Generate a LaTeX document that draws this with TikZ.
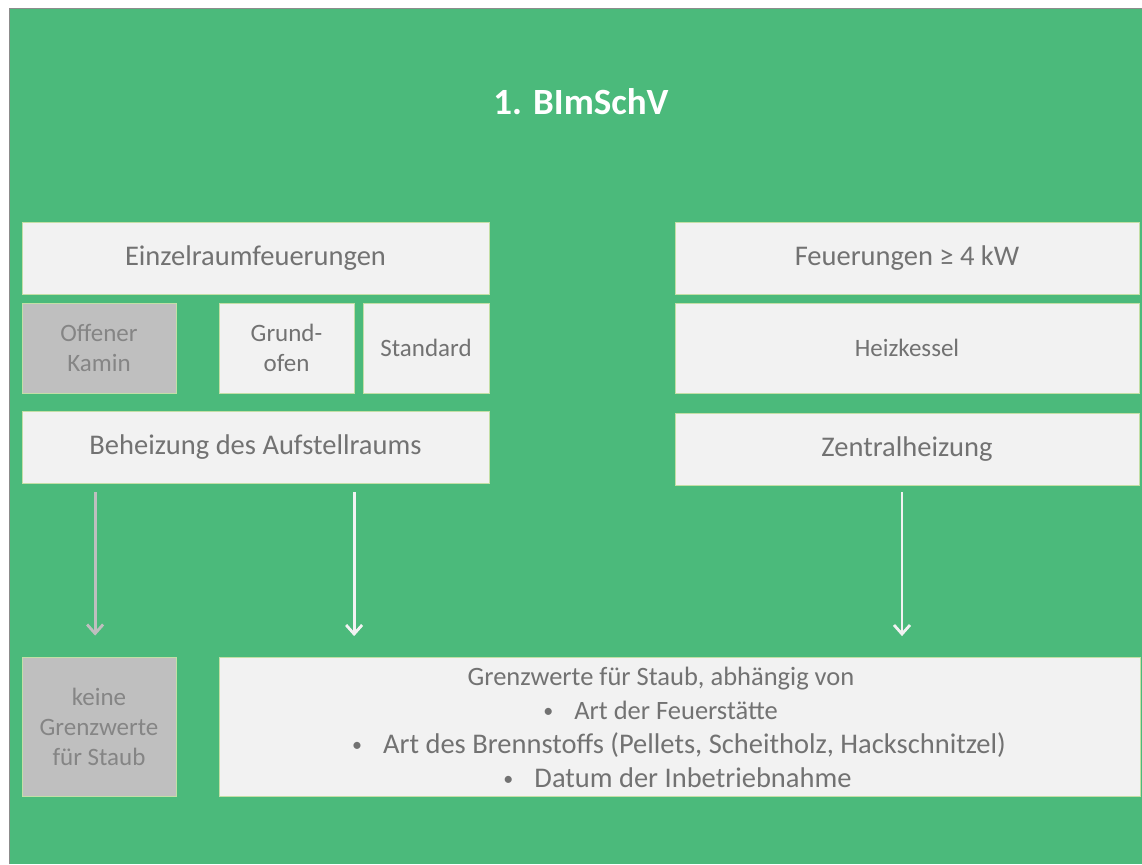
\documentclass[tikz,border=0pt]{standalone}
\usepackage{fontspec}
\setmainfont{Carlito}
\usetikzlibrary{arrows.meta}
\definecolor{bggreen}{HTML}{4BBA7B}
\definecolor{boxfill}{HTML}{F2F2F2}
\definecolor{boxedge}{HTML}{C3DFA6}
\definecolor{greyfill}{HTML}{BFBFBF}
\definecolor{txt}{HTML}{727272}
\definecolor{greytxt}{HTML}{858585}
\definecolor{frame}{HTML}{8C8C8C}
\newcommand\mybul{\makebox[8pt]{\raisebox{1.5pt}{\fontsize{20}{20}\selectfont •}}\hspace{22pt}}
\tikzset{
  box/.style={rectangle, fill=boxfill, draw=boxedge, line width=0.8pt, inner sep=0pt,
    text=txt, align=center},
  greybox/.style={box, fill=greyfill, text=greytxt},
  big/.style={font=\fontsize{28.5}{34}\selectfont},
  small/.style={font=\fontsize{25}{30}\selectfont},
  mid/.style={font=\fontsize{26.5}{34}\selectfont},
  arrowW/.style={draw=boxfill, line width=2.8pt, -{Straight Barb[length=9pt,width=16pt]}},
  arrowG/.style={draw=greyfill, line width=2.8pt, -{Straight Barb[length=9pt,width=16pt]}}
}
\begin{document}
\begin{tikzpicture}[x=1pt,y=-1pt]
\useasboundingbox (0,0) rectangle (1142,864);
\fill[white] (0,0) rectangle (1142,864);
\fill[bggreen] (9.5,8.5) rectangle (1142,864);
\draw[frame, line width=1pt] (9.5,864) -- (9.5,8.5) -- (1142,8.5);

\node[text=white, font=\fontsize{37}{44}\selectfont\bfseries] (title) at (581,102) {1. BImSchV};

\node[box, big, minimum width=467pt, minimum height=72pt] (einz) at (255.5,258) {Einzelraumfeuerungen};
\node[greybox, small, minimum width=154pt, minimum height=90pt] (kamin) at (99,348) {Offener\\Kamin};
\node[box, small, minimum width=135pt, minimum height=90pt] (grund) at (286.5,348) {Grund-\\ofen};
\node[box, small, minimum width=126pt, minimum height=90pt] (std) at (426,348) {Standard};
\node[box, big, minimum width=467pt, minimum height=72pt] (beh) at (255.5,447) {Beheizung des Aufstellraums};

\node[box, big, minimum width=464pt, minimum height=72pt] (feu) at (907,258) {Feuerungen ≥ 4 kW};
\node[box, small, minimum width=464pt, minimum height=90pt] (heiz) at (907,348) {Heizkessel};
\node[box, big, minimum width=464pt, minimum height=72pt] (zent) at (907,449) {Zentralheizung};

\node[greybox, small, minimum width=154pt, minimum height=139pt] (keine) at (99,726.5) {keine\\Grenzwerte\\für Staub};
\node[box, mid, minimum width=921pt, minimum height=139pt] (grenz) at (679.5,727)
  {Grenzwerte für Staub, abhängig von\kern37pt\\
   \mybul Art der Feuerstätte\kern37pt\\
   {\fontsize{28.5}{34}\selectfont\mybul Art des Brennstoffs (Pellets, Scheitholz, Hackschnitzel)}\\
   {\fontsize{28.5}{34}\selectfont\mybul Datum der Inbetriebnahme\kern3pt}};

\draw[arrowG, shorten <=9pt, shorten >=21pt] ([xshift=73.5pt]beh.south west) -- ([xshift=73.5pt]beh.south west |- keine.north);
\draw[arrowW, shorten <=9pt, shorten >=21pt] ([xshift=332.5pt]beh.south west) -- ([xshift=332.5pt]beh.south west |- grenz.north);
\draw[arrowW, shorten <=7pt, shorten >=21pt] ([xshift=-5pt]zent.south) -- ([xshift=-5pt]zent.south |- grenz.north);
\end{tikzpicture}
\end{document}
